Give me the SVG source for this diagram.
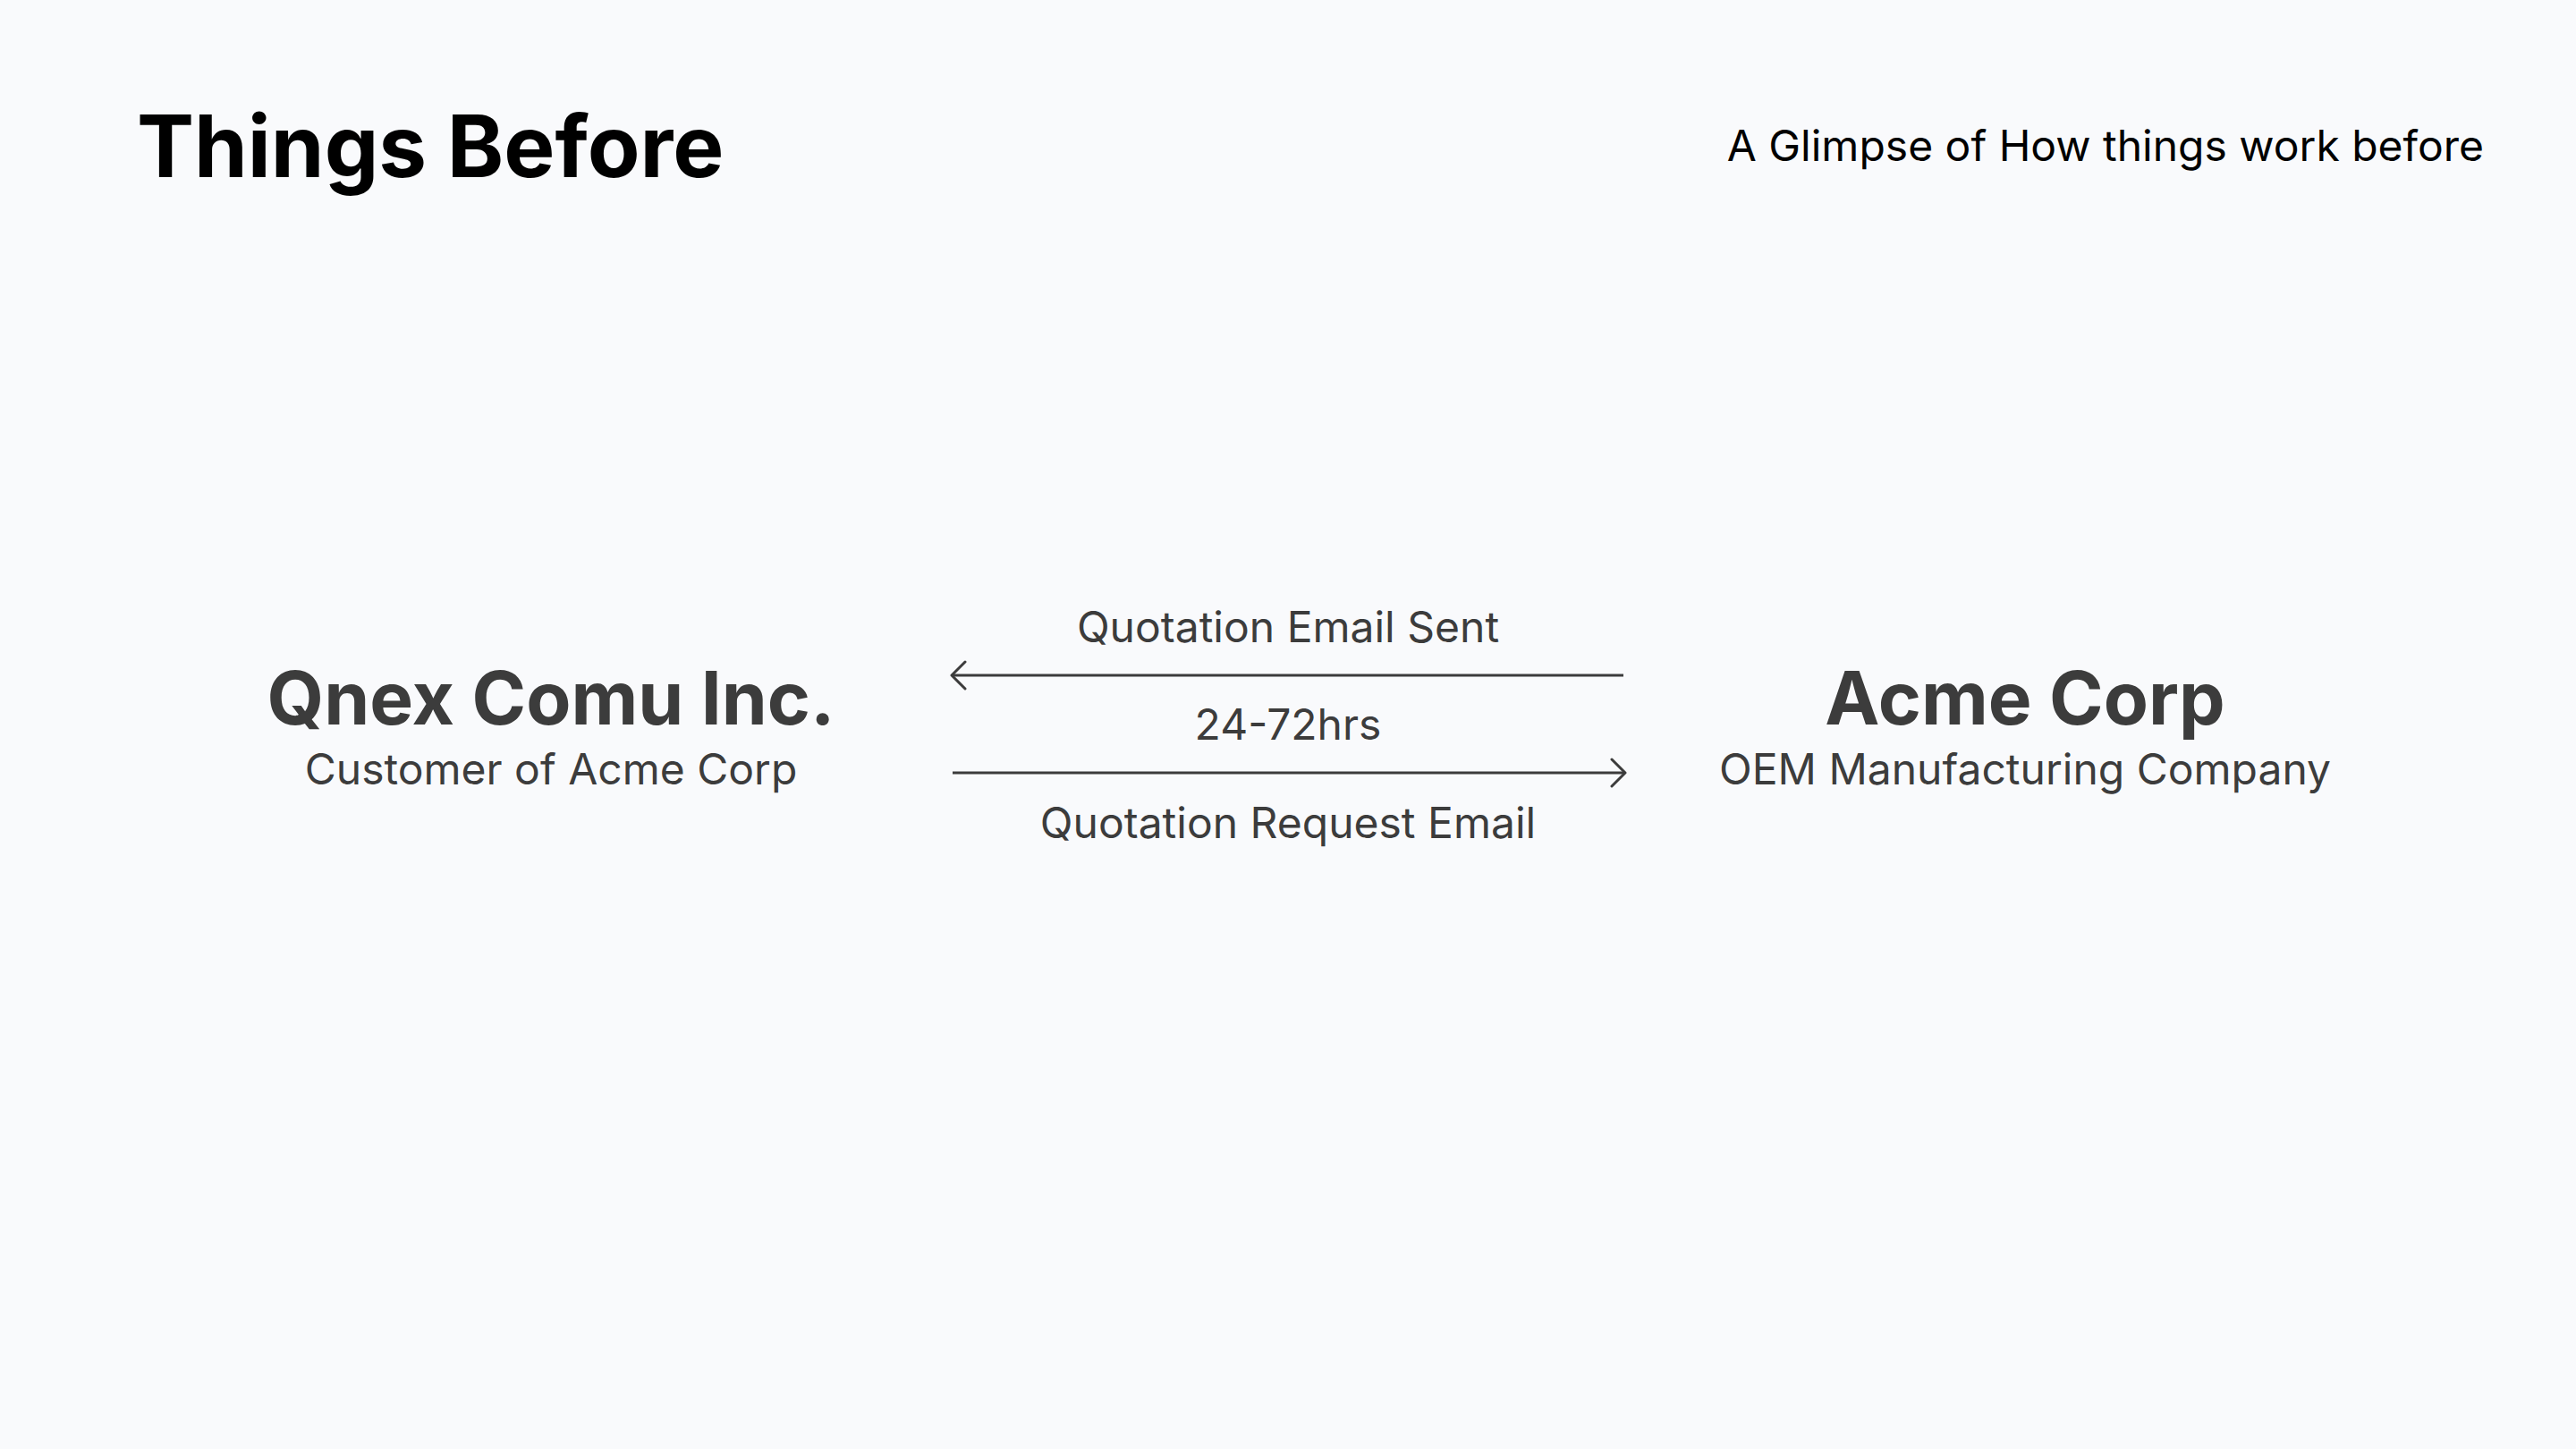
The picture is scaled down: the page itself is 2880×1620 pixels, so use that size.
<svg xmlns="http://www.w3.org/2000/svg" width="2880" height="1620" viewBox="0 0 2880 1620">
<style>
  .title { font-family: Inter, "Noto Sans", "Liberation Sans", sans-serif; font-weight: 700; font-size: 96px; fill: #000000; }
  .subtitle { font-family: Inter, "Noto Sans", "Liberation Sans", sans-serif; font-weight: 400; font-size: 48px; fill: #000000; }
  .name { font-family: Inter, "Noto Sans", "Liberation Sans", sans-serif; font-weight: 700; font-size: 82px; fill: #3c3c3c; text-anchor: middle; }
  .desc { font-family: Inter, "Noto Sans", "Liberation Sans", sans-serif; font-weight: 400; font-size: 48px; fill: #3c3c3c; text-anchor: middle; }
  .label { font-family: Inter, "Noto Sans", "Liberation Sans", sans-serif; font-weight: 400; font-size: 48px; fill: #3c3c3c; text-anchor: middle; }
  .conn { stroke: #3c3c3c; stroke-width: 3; fill: none; }
  .head { stroke: #3c3c3c; stroke-width: 3; fill: none; stroke-linecap: round; stroke-linejoin: round; }
</style>
<defs>
  <marker id="arrow" viewBox="0 0 20 34" refX="18" refY="17" markerWidth="20" markerHeight="34" markerUnits="userSpaceOnUse" orient="auto-start-reverse">
    <path d="M3,2 L18,17 L3,32" class="head"/>
  </marker>
</defs>
<rect width="2880" height="1620" fill="#f9fafc"/>
<g id="header">
  <text class="title" x="153" y="198">Things Before</text>
  <text class="subtitle" x="2777" y="180" text-anchor="end">A Glimpse of How things work before</text>
</g>
<g id="node-qnex">
  <text class="name" x="616" y="810">Qnex Comu Inc.</text>
  <text class="desc" x="616" y="877">Customer of Acme Corp</text>
</g>
<g id="node-acme">
  <text class="name" x="2264" y="810">Acme Corp</text>
  <text class="desc" x="2264" y="877">OEM Manufacturing Company</text>
</g>
<g id="connectors">
  <line class="conn" x1="1815" y1="755" x2="1064" y2="755" marker-end="url(#arrow)"/>
  <line class="conn" x1="1065" y1="864" x2="1817" y2="864" marker-end="url(#arrow)"/>
  <text class="label" x="1440" y="718">Quotation Email Sent</text>
  <text class="label" x="1440" y="827">24-72hrs</text>
  <text class="label" x="1440" y="937">Quotation Request Email</text>
</g>
</svg>
